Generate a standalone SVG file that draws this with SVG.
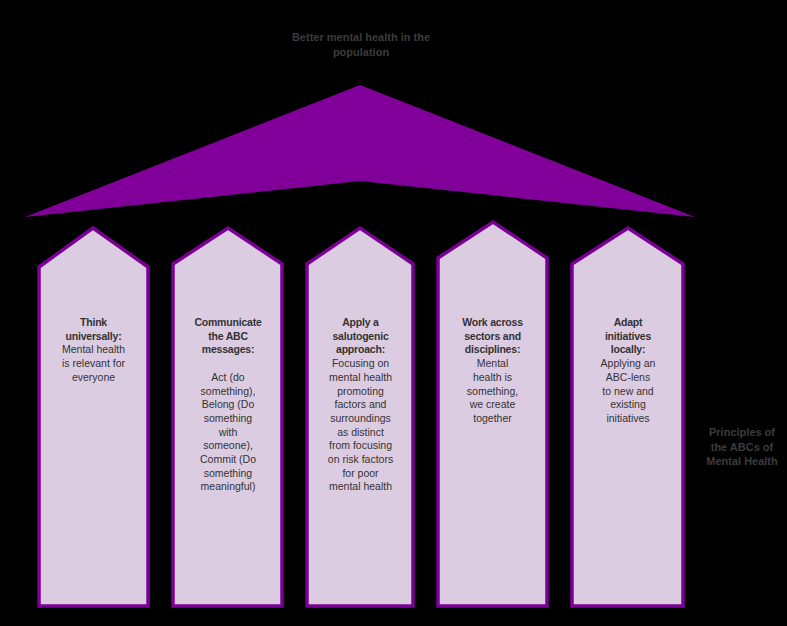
<svg xmlns="http://www.w3.org/2000/svg" width="787" height="626" viewBox="0 0 787 626">
<style>
.pillar{fill:#DCCCE2;stroke:#7A0096;stroke-width:3.5;stroke-linejoin:miter}
.t{font-family:"Liberation Sans",Arial,sans-serif;font-size:10.5px;fill:#333333;text-anchor:middle}
.b{font-weight:bold;letter-spacing:-0.2px}
.g{font-family:"Liberation Sans",Arial,sans-serif;font-size:11px;font-weight:bold;fill:#3c3c3c;text-anchor:middle}
</style>
<rect x="0" y="0" width="787" height="626" fill="#000000"/>
<g id="title">
<text class="g" x="361" y="41">Better mental health in the</text>
<text class="g" x="361" y="56">population</text>
</g>
<g id="roof">
<polygon points="25,217 360,85 695,217 360,181" fill="#82009A"/>
</g>
<g id="pillar1">
<polygon class="pillar" points="39,267 93,228 148,267 148,606 39,606"/>
<text class="t" x="93.5"><tspan class="b" x="93.5" y="326">Think</tspan><tspan class="b" x="93.5" y="339.7">universally:</tspan><tspan x="93.5" y="353.4">Mental health</tspan><tspan x="93.5" y="367.1">is relevant for</tspan><tspan x="93.5" y="380.8">everyone</tspan></text>
</g>
<g id="pillar2">
<polygon class="pillar" points="173,264 228,228 282,264 282,606 173,606"/>
<text class="t" x="228"><tspan class="b" x="228" y="326">Communicate</tspan><tspan class="b" x="228" y="339.7">the ABC</tspan><tspan class="b" x="228" y="353.4">messages:</tspan><tspan x="228" y="380.8">Act (do</tspan><tspan x="228" y="394.5">something),</tspan><tspan x="228" y="408.2">Belong (Do</tspan><tspan x="228" y="421.9">something</tspan><tspan x="228" y="435.6">with</tspan><tspan x="228" y="449.3">someone),</tspan><tspan x="228" y="463">Commit (Do</tspan><tspan x="228" y="476.7">something</tspan><tspan x="228" y="490.4">meaningful)</tspan></text>
</g>
<g id="pillar3">
<polygon class="pillar" points="307,264 360,228 413,264 413,606 307,606"/>
<text class="t" x="360.5"><tspan class="b" x="360.5" y="326">Apply a</tspan><tspan class="b" x="360.5" y="339.7">salutogenic</tspan><tspan class="b" x="360.5" y="353.4">approach:</tspan><tspan x="360.5" y="367.1">Focusing on</tspan><tspan x="360.5" y="380.8">mental health</tspan><tspan x="360.5" y="394.5">promoting</tspan><tspan x="360.5" y="408.2">factors and</tspan><tspan x="360.5" y="421.9">surroundings</tspan><tspan x="360.5" y="435.6">as distinct</tspan><tspan x="360.5" y="449.3">from focusing</tspan><tspan x="360.5" y="463">on risk factors</tspan><tspan x="360.5" y="476.7">for poor</tspan><tspan x="360.5" y="490.4">mental health</tspan></text>
</g>
<g id="pillar4">
<polygon class="pillar" points="438,258 493,222 547,258 547,606 438,606"/>
<text class="t" x="492.5"><tspan class="b" x="492.5" y="326">Work across</tspan><tspan class="b" x="492.5" y="339.7">sectors and</tspan><tspan class="b" x="492.5" y="353.4">disciplines:</tspan><tspan x="492.5" y="367.1">Mental</tspan><tspan x="492.5" y="380.8">health is</tspan><tspan x="492.5" y="394.5">something,</tspan><tspan x="492.5" y="408.2">we create</tspan><tspan x="492.5" y="421.9">together</tspan></text>
</g>
<g id="pillar5">
<polygon class="pillar" points="572,264 628,228 683,264 683,606 572,606"/>
<text class="t" x="628"><tspan class="b" x="628" y="326">Adapt</tspan><tspan class="b" x="628" y="339.7">initiatives</tspan><tspan class="b" x="628" y="353.4">locally:</tspan><tspan x="628" y="367.1">Applying an</tspan><tspan x="628" y="380.8">ABC-lens</tspan><tspan x="628" y="394.5">to new and</tspan><tspan x="628" y="408.2">existing</tspan><tspan x="628" y="421.9">initiatives</tspan></text>
</g>
<g id="label">
<text class="g" x="742" y="436">Principles of</text>
<text class="g" x="742" y="450.5">the ABCs of</text>
<text class="g" x="742" y="465">Mental Health</text>
</g>
<g id="connectors"></g>
</svg>
